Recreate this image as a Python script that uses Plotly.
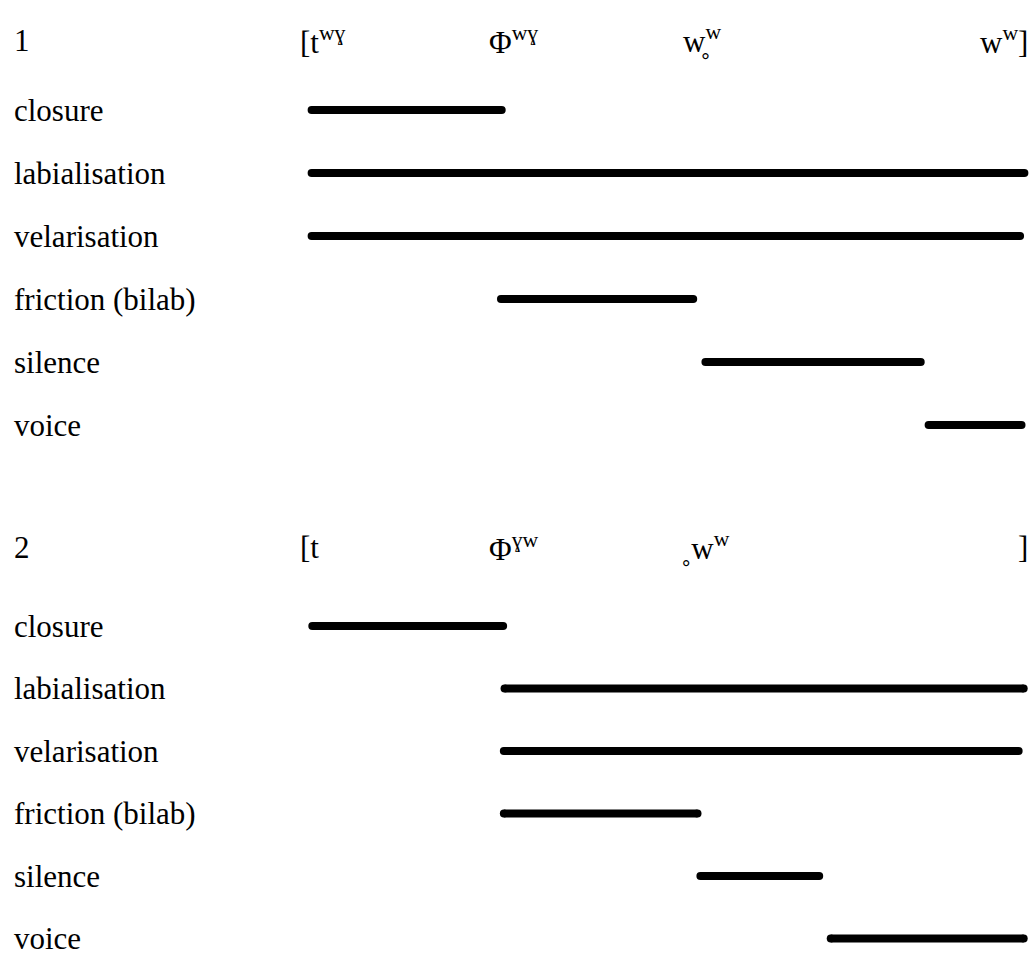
import plotly.graph_objects as go

# gesture tiers (same for both panels)
features = ["closure", "labialisation", "velarisation", "friction (bilab)", "silence", "voice"]

# panel 1: onset / offset of each gesture (time units, 0-100)
p1_on = [0.5, 0.5, 0.5, 26.8, 55.2, 86.2]
p1_off = [26.9, 99.5, 98.9, 53.5, 85.1, 99.1]

# panel 2
p2_on = [0.6, 27.3, 27.2, 27.2, 54.5, 72.6]
p2_off = [27.1, 99.4, 98.7, 54.1, 71.0, 99.4]

# segment transcriptions along the top of each panel, and where they start
p1_segs = ["[t<sup>wɣ</sup>", "Φ<sup>wɣ</sup>", "w̥<sup>w</sup>", "w<sup>w</sup>]"]
p1_seg_at = [-1.4, 24.8, 51.8, 100.3]
p2_segs = ["[t", "Φ<sup>ɣw</sup>", "˳w<sup>w</sup>", "]"]
p2_seg_at = [-1.4, 24.8, 51.5, 100.3]

panels = [
    ("1", p1_on, p1_off, p1_segs, p1_seg_at),
    ("2", p2_on, p2_off, p2_segs, p2_seg_at),
]

W, H = 1032, 958
px_per_t = 7.2
x0_px = 308
font = dict(family="Liberation Serif, Times New Roman, serif", size=31, color="black")

header_y = [40, 547]
first_gap = [70, 79]
step = [63, 62.5]

fig = go.Figure()
annotations = []
label_x = (12 - x0_px) / px_per_t

for p, (num, on, off, segs, seg_at) in enumerate(panels):
    hy = header_y[p]
    annotations.append(dict(x=label_x, y=hy, text=num, xanchor="left", yanchor="middle",
                            showarrow=False, font=font))
    for j, (s, sx) in enumerate(zip(segs, seg_at)):
        annotations.append(dict(x=sx, y=hy, text=s, showarrow=False, font=font,
                                xanchor="right" if j == len(segs) - 1 else "left",
                                yanchor="middle"))
    for k, name in enumerate(features):
        ry = hy + first_gap[p] + k * step[p]
        annotations.append(dict(x=label_x, y=ry, text=name, xanchor="left", yanchor="middle",
                                showarrow=False, font=font))
        fig.add_trace(go.Scatter(
            x=[on[k], off[k]], y=[ry, ry], mode="lines+markers",
            line=dict(color="black", width=8),
            marker=dict(color="black", size=8),
            showlegend=False, hoverinfo="skip"))

fig.update_layout(
    width=W, height=H,
    margin=dict(l=0, r=0, t=0, b=0),
    paper_bgcolor="white", plot_bgcolor="white",
    annotations=annotations,
    xaxis=dict(range=[-x0_px / px_per_t, (W - x0_px) / px_per_t], visible=False, fixedrange=True),
    yaxis=dict(range=[H, 0], visible=False, fixedrange=True),
)

# drop the default 8px page margin so the figure fills the window
fig.write_html("out.html", config={"displayModeBar": False},
               post_script="document.body.style.margin='0';")
